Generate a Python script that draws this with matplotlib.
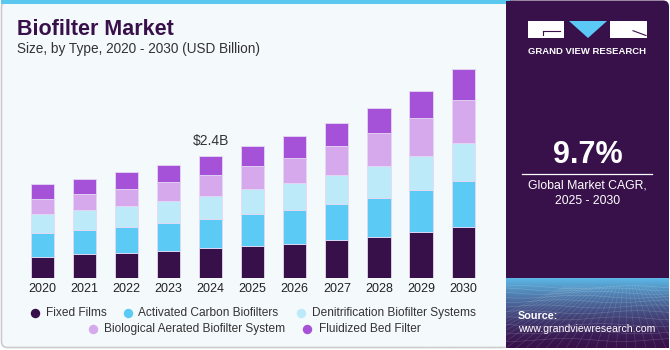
import numpy as np
import matplotlib
matplotlib.use("Agg")
import matplotlib.pyplot as plt
from matplotlib.patches import FancyBboxPatch, Rectangle, Polygon

plt.rcParams['font.family'] = ['Liberation Sans', 'DejaVu Sans']

# data (USD billion)
years = ['2020', '2021', '2022', '2023', '2024', '2025',
         '2026', '2027', '2028', '2029', '2030']
fixed_films = [0.43, 0.47, 0.50, 0.54, 0.59, 0.63, 0.68, 0.75, 0.82, 0.91, 1.02]
activated_carbon = [0.47, 0.49, 0.52, 0.55, 0.57, 0.63, 0.66, 0.71, 0.77, 0.83, 0.89]
denitrification = [0.36, 0.38, 0.40, 0.43, 0.47, 0.50, 0.53, 0.58, 0.63, 0.68, 0.76]
biological_aerated = [0.31, 0.32, 0.34, 0.37, 0.41, 0.45, 0.51, 0.57, 0.64, 0.74, 0.85]
fluidized_bed = [0.29, 0.30, 0.33, 0.35, 0.37, 0.39, 0.42, 0.46, 0.49, 0.54, 0.60]

series = [fixed_films, activated_carbon, denitrification, biological_aerated, fluidized_bed]
names = ['Fixed Films', 'Activated Carbon Biofilters', 'Denitrification Biofilter Systems',
         'Biological Aerated Biofilter System', 'Fluidized Bed Filter']
colors = ['#37104a', '#5bcbf5', '#bdeaf9', '#d5a9ec', '#a652d8']

annot_year = '2024'
annot_text = '$2.4B'

W, H = 670, 350
dark = '#38114a'

fig = plt.figure(figsize=(W / 100, H / 100), dpi=100)

# background layer, pixel coords (y down)
bg = fig.add_axes([0, 0, 1, 1])
bg.set_xlim(0, W)
bg.set_ylim(H, 0)
bg.axis('off')

bg.add_patch(FancyBboxPatch((1.5, 1.5), 520, 346, boxstyle='round,pad=0,rounding_size=6',
                            facecolor='#f4f9fc', edgecolor='#cccccc', lw=1.2))
bg.add_patch(Rectangle((1, 0), 510, 3.5, facecolor='#5bc8f0', edgecolor='none'))
bg.add_patch(FancyBboxPatch((506, 0.5), 163, 348.5, boxstyle='round,pad=0,rounding_size=6',
                            facecolor=dark, edgecolor='none'))
bg.add_patch(Rectangle((506, 0.5), 10, 348.5, facecolor=dark, edgecolor='none'))

# gradient at the bottom of the dark panel
grad = np.linspace(0, 1, 120)[:, None]
c0 = np.array([0x38, 0x11, 0x4a]) / 255
c1 = np.array([0x5c, 0xb8, 0xe6]) / 255
img = c0 + (c1 - c0) * grad[..., None] ** 1.5
img = np.repeat(img, 2, axis=1)
bg.imshow(img, extent=[506, 669, 278, 348], aspect='auto', zorder=1, interpolation='bilinear')
# faint mesh
xs = np.linspace(506, 669, 40)
for k in range(1, 12):
    yy = 286 + 62 * (k / 12) ** 1.6
    bg.plot(xs, yy + 1.5 * np.sin(xs / 18 + k), color='white', lw=0.4, alpha=0.2, zorder=2)
for k in range(-8, 22):
    bg.plot([590 + k * 3, 506 + k * 10], [286, 348], color='white', lw=0.4, alpha=0.16, zorder=2)
bg.add_patch(Rectangle((503, 348), 167, 2, facecolor='white', edgecolor='none', zorder=3))

# logo
bg.add_patch(Rectangle((528, 21), 36, 16.7, facecolor='white', zorder=3))
bg.plot([543, 560], [30.7, 30.7], color=dark, lw=0.8, zorder=4)
bg.plot([543, 543], [30.7, 35], color=dark, lw=0.8, zorder=4)
bg.add_patch(Polygon([[569, 21], [607, 21], [588, 38]], closed=True, facecolor='#5bc8f5', zorder=3))
bg.add_patch(Rectangle((610, 21), 37, 16.7, facecolor='white', zorder=3))
bg.plot([633, 646], [30.7, 35.5], color=dark, lw=0.8, zorder=4)
bg.text(587.5, 51.5, 'GRAND VIEW RESEARCH', color='white', fontsize=6.8, fontweight='bold',
        ha='center', va='center', zorder=4)

# CAGR box
bg.text(587.5, 155, '9.7%', color='white', fontsize=22, fontweight='bold',
        ha='center', va='center', zorder=4)
bg.plot([522, 652], [173.7, 173.7], color='white', lw=0.9, zorder=4)
bg.text(587.5, 185.5, 'Global Market CAGR,', color='white', fontsize=8.8,
        ha='center', va='center', zorder=4)
bg.text(587.5, 200.5, '2025 - 2030', color='white', fontsize=8.8,
        ha='center', va='center', zorder=4)
bg.text(518, 316, 'Source:', color='white', fontsize=7.8, fontweight='bold',
        ha='left', va='center', zorder=4)
bg.text(518, 329.5, 'www.grandviewresearch.com', color='white', fontsize=7.6,
        ha='left', va='center', zorder=4)

# titles
bg.text(17, 35, 'Biofilter Market', color=dark, fontsize=15.5, fontweight='bold',
        ha='left', va='baseline')
bg.text(17, 52.5, 'Size, by Type, 2020 - 2030 (USD Billion)', color='#333333', fontsize=9.8,
        ha='left', va='baseline')

# legend (manual, two centred rows)
leg_pos = [(35, 45.7, 312.7), (128.3, 138.3, 312.7), (301, 311.7, 312.7),
           (92.7, 104, 328.7), (307.3, 319, 328.7)]
for (dx, tx, ty), nm, c in zip(leg_pos, names, colors):
    bg.plot([dx], [ty], 'o', ms=6.8, color=c, mec='none')
    bg.text(tx, ty, nm, fontsize=8.6, color='#333333', ha='left', va='center')

# chart
base_y = 278.3
top_y = 60
ax = fig.add_axes([20 / W, 1 - base_y / H, (485 - 20) / W, (base_y - top_y) / H])
ax.set_facecolor('none')
x = np.arange(len(years))
bottom = np.zeros(len(years))
for vals, c, nm in zip(series, colors, names):
    ax.bar(x, vals, width=0.55, bottom=bottom, color=c, edgecolor='#e4d8f3',
           linewidth=0.6, label=nm)
    bottom += np.array(vals)

i = years.index(annot_year)
ax.text(x[i], bottom[i] + 0.17, annot_text, ha='center', va='bottom',
        fontsize=10, color='#333333')

ax.set_xlim(-0.53, 10.52)
ax.set_ylim(0, (base_y - top_y) * 2.4 / 121.67)
ax.set_xticks(x)
ax.set_xticklabels(years, fontsize=9, color='#222222')
ax.tick_params(axis='x', length=0, pad=3.2)
ax.set_yticks([])
for s in ax.spines.values():
    s.set_visible(False)

fig.savefig('out.png', dpi=100)
